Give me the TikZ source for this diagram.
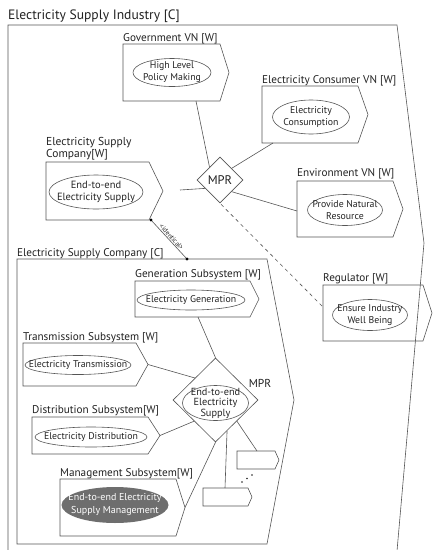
\documentclass[tikz,border=0pt]{standalone}
\usepackage{fontspec}
\setmainfont{PT Sans}
\usetikzlibrary{shapes.geometric,calc}
\definecolor{ln}{HTML}{555555}
\definecolor{tx}{HTML}{222222}
\definecolor{mgfill}{HTML}{6E6E6E}
\newcommand\pentbox[6]{%
  \draw[boxline] (#2,#3) -- (#4,#3) -- (#5,{(#3+#6)/2}) -- (#4,#6) -- (#2,#6) -- cycle;
  \coordinate (#1-tip) at (#5,{(#3+#6)/2});
}
\tikzset{
  boxline/.style={draw=ln, line width=0.6pt, line join=miter},
  conn/.style={draw=ln, line width=0.6pt},
  lbl/.style={anchor=base west, inner sep=0, text=tx, font=\fontsize{11.2}{10}\selectfont, align=left},
  ell/.style={ellipse, draw=ln, line width=0.6pt, inner sep=0},
  etext/.style={inner sep=0, text=tx, align=center, font=\fontsize{9.8}{12}\selectfont},
  dia/.style={diamond, draw=ln, line width=0.6pt, inner sep=0, text=tx},
  dotc/.style={circle, fill=black, inner sep=0, minimum size=3.2pt},
}
\begin{document}
\begin{tikzpicture}[x=1pt,y=-1pt]
\useasboundingbox (0,0) rectangle (434,550);
% title and outer frame
\node[lbl, font=\fontsize{13.6}{14}\selectfont] (title) at (8,19.5) {Electricity Supply Industry [C]};
\draw[boxline] (8,551) -- (8,25) -- (397,25) -- (424,243) -- (397,551);
% Government
\node[lbl] (govL) at (123,41.7) {Government VN [W]};
\pentbox{gov}{123}{44}{220}{229}{101}
\node[ell, minimum width=78, minimum height=28] (govE) at (172,72.5) {};
\node[etext] (govT) at (govE) {High Level\\Policy Making};
\coordinate (govB) at (196,101);
% Consumer
\node[lbl] (conL) at (262,83.3) {Electricity Consumer VN [W]};
\pentbox{con}{262}{86}{358}{368}{143}
\node[ell, minimum width=77, minimum height=34] (conE) at (311,117) {};
\node[etext] (conT) at (conE) {Electricity\\Consumption};
\coordinate (conB) at (273,143);
% Environment
\node[lbl] (envL) at (297,176.7) {Environment VN [W]};
\pentbox{env}{297}{181}{393}{403}{237}
\node[ell, minimum width=75, minimum height=31] (envE) at (345,210) {};
\node[etext] (envT) at (envE) {Provide Natural\\Resource};
\coordinate (envW) at (297,211);
% Electricity supply company [W]
\node[lbl, font=\fontsize{11.5}{9.3}\selectfont] (escL) at (46,157.5) {Electricity Supply\\Company[W]};
\pentbox{esc}{46}{162}{149}{163}{220}
\node[ell, minimum width=94, minimum height=34] (escE) at (96,192) {};
\node[etext, font=\fontsize{10.5}{12.5}\selectfont] (escT) at (escE) {End-to-end\\Electricity Supply};
\coordinate (escR) at (180,190);
% MPR
\node[dia, minimum width=46, minimum height=46, font=\fontsize{12.5}{14}\selectfont] (mpr) at (220,180) {MPR};
% Regulator
\node[lbl] (regL) at (323,281) {Regulator [W]};
\pentbox{reg}{323}{285}{423}{432}{341}
\node[ell, minimum width=75, minimum height=31] (regE) at (370,315) {};
\node[etext] (regT) at (regE) {Ensure Industry\\Well Being};
\coordinate (regW) at (323,307);
% connectors of the upper MPR
\draw[conn] (govB) -- ($(mpr.north)!0.45!(mpr.west)$);
\draw[conn] (conB) -- ($(mpr.north)!0.5!(mpr.east)$);
\draw[conn] (envW) -- ($(mpr.south)!0.5!(mpr.east)$);
\draw[conn] (escR) -- ($(mpr.south)!0.64!(mpr.west)$);
\draw[conn, dashed, dash pattern=on 3.5pt off 3.5pt] ($(mpr.south)+(1,1)$) -- (regW);
% inner company frame
\node[lbl] (esccL) at (17,256) {Electricity Supply Company [C]};
\draw[boxline] (17,259) -- (267,259) -- (294,400) -- (267,544) -- (17,544) -- cycle;
% identical relation
\node[dotc] (id1) at (151,220) {};
\node[dotc] (id2) at (187,259) {};
\draw[conn] (id1) -- (id2) node[midway, sloped, above=0.3pt, inner sep=0.5pt, text=tx, font=\fontsize{6.8}{7}\selectfont] {<identical>};
% Generation
\node[lbl] (genL) at (135,277.7) {Generation Subsystem [W]};
\pentbox{gen}{135}{281}{250}{259}{317}
\node[ell, minimum width=108, minimum height=20] (genE) at (191,300) {};
\node[etext] (genT) at (genE) {Electricity Generation};
\coordinate (genB) at (198,317);
% Transmission
\node[lbl] (traL) at (23,340) {Transmission Subsystem [W]};
\pentbox{tra}{23}{343}{136}{148}{386}
\node[ell, minimum width=106, minimum height=19] (traE) at (78,365) {};
\node[etext] (traT) at (traE) {Electricity Transmission};
% Distribution
\node[lbl] (disL) at (32,413) {Distribution Subsystem[W]};
\pentbox{dis}{32}{417}{148}{160}{454}
\node[ell, minimum width=112, minimum height=20] (disE) at (91,437) {};
\node[etext] (disT) at (disE) {Electricity Distribution};
% Management
\node[lbl] (manL) at (60,476) {Management Subsystem[W]};
\pentbox{man}{60}{479}{176}{185}{536}
\node[ellipse, fill=mgfill, inner sep=0, minimum width=107, minimum height=36] (manE) at (115,505) {};
\node[etext, text=white, font=\fontsize{10}{13}\selectfont] (manT) at (manE) {End-to-end Electricity\\Supply Management};
% big MPR
\node[dia, minimum width=85, minimum height=84] (bmpr) at (215.5,400) {};
\node[ell, minimum width=66, minimum height=35] (bmprE) at (215.5,403) {};
\node[etext, font=\fontsize{10.3}{10.5}\selectfont] (bmprT) at (bmprE) {End-to-end\\Electricity\\Supply};
\node[inner sep=0, text=tx, font=\fontsize{11.5}{12}\selectfont] (bmprL) at (260,383) {MPR};
% small boxes
\pentbox{sb1}{237}{451}{275}{279}{469}
\pentbox{sb2}{203}{488}{248}{252}{506}
\coordinate (sb1T) at (257,451);
\coordinate (sb2T) at (225,488);
\fill[tx] (242,482) circle (0.9) (247,478.5) circle (0.9) (252,475) circle (0.9);
% connectors of the big MPR
\draw[conn] (genB) -- (bmpr.north);
\draw[conn] (tra-tip) -- ($(bmpr.north)!0.48!(bmpr.west)$);
\draw[conn] (dis-tip) -- ($(bmpr.south)!0.5!(bmpr.west)$);
\draw[conn] (man-tip) -- (bmpr.south);
\draw[conn] (sb2T) -- ($(bmpr.south)!0.27!(bmpr.east)$);
\draw[conn] (sb1T) -- ($(bmpr.south)!0.5!(bmpr.east)$);
\end{tikzpicture}
\end{document}
